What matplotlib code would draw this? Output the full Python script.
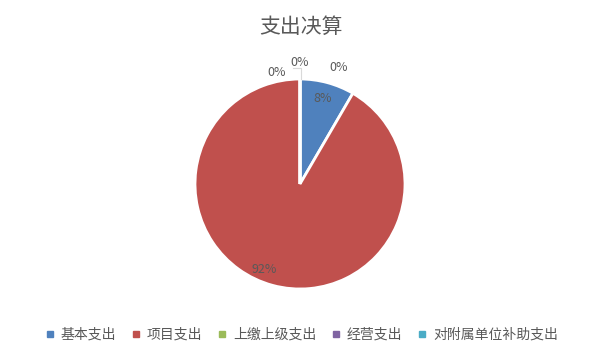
import matplotlib.pyplot as plt
import numpy as np
from matplotlib.lines import Line2D

plt.rcParams['font.family'] = ['Noto Sans CJK SC', 'DejaVu Sans']

title = "支出决算"
categories = ["基本支出", "项目支出", "上缴上级支出", "经营支出", "对附属单位补助支出"]
values = [8.4, 91.6, 0, 0, 0]
labels = ["8%", "92%", "0%", "0%", "0%"]
colors = ["#4F81BD", "#C0504D", "#9BBB59", "#8064A2", "#4BACC6"]

text_color = "#595959"


def main():
    fig = plt.figure(figsize=(6.02, 3.62), dpi=100)
    fig.patch.set_facecolor("white")

    r_px = 105
    cx, cy = 300, 184
    ax = fig.add_axes([(cx - r_px) / 602, (362 - cy - r_px) / 362,
                       2 * r_px / 602, 2 * r_px / 362])
    ax.pie(values, colors=colors, startangle=90, counterclock=False,
           wedgeprops=dict(edgecolor="white", linewidth=2))
    ax.set_xlim(-1, 1)
    ax.set_ylim(-1, 1)
    ax.set_aspect("equal")
    ax.axis("off")

    # label positions (Excel best fit)
    total = sum(values)
    start = 0.0
    zero_offsets = [(-0.22, 1.06), (0.0, 1.16), (0.37, 1.11)]
    zi = 0
    for v, lab in zip(values, labels):
        if v > 0:
            mid = (start + v / 2) / total * 2 * np.pi
            r = 0.84
            x, y = r * np.sin(mid), r * np.cos(mid)
            if lab == "92%":
                x -= 0.12
            ax.text(x, y, lab, ha="center", va="center", fontsize=9,
                    color=text_color, clip_on=False)
        else:
            x, y = zero_offsets[zi]
            zi += 1
            ax.text(x, y, lab, ha="center", va="center", fontsize=9,
                    color=text_color, clip_on=False)
        start += v

    # leader line for the small slices
    ax.plot([0.01, 0.01, -0.07], [1.0, 1.1, 1.1], color="#d9d9d9",
            linewidth=0.8, clip_on=False)

    fig.text(0.5, 1 - 27 / 362, title, ha="center", va="center",
             fontsize=15, color=text_color)

    handles = [Line2D([], [], marker="s", linestyle="", markersize=5,
                      markerfacecolor=c, markeredgecolor=c) for c in colors]
    fig.legend(handles, categories, loc="center", ncol=5,
               bbox_to_anchor=(0.5, 1 - 335 / 362), frameon=False,
               fontsize=10, labelcolor=text_color, handlelength=0.8,
               handletextpad=0.4, columnspacing=1.0)

    plt.savefig("out.png", dpi=100)


if __name__ == "__main__":
    main()
